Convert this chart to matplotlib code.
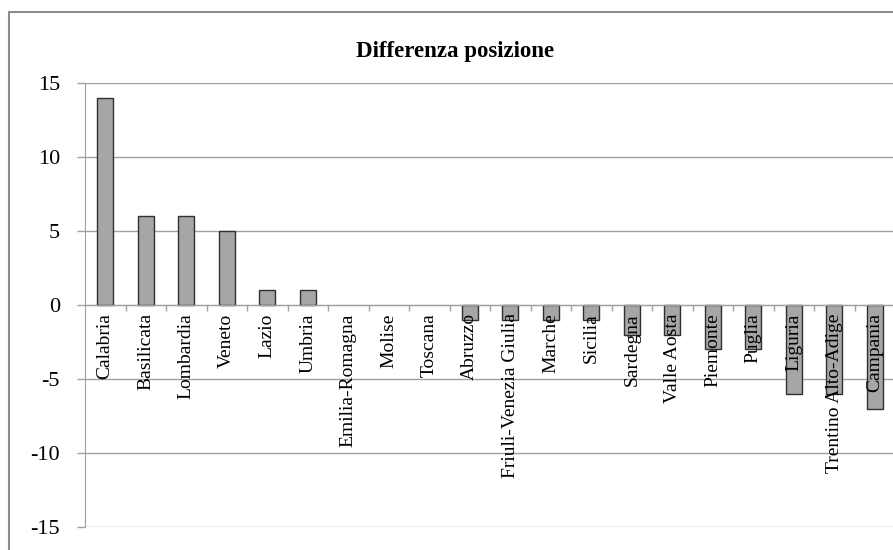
import numpy as np
import matplotlib
matplotlib.use('Agg')
import matplotlib.pyplot as plt
from matplotlib.patches import Rectangle

plt.rcParams['font.family'] = ['Liberation Serif', 'DejaVu Serif']

regions = ['Calabria', 'Basilicata', 'Lombardia', 'Veneto', 'Lazio', 'Umbria',
           'Emilia-Romagna', 'Molise', 'Toscana', 'Abruzzo', 'Friuli-Venezia Giulia',
           'Marche', 'Sicilia', 'Sardegna', 'Valle Aosta', 'Piemonte', 'Puglia',
           'Liguria', 'Trentino Alto-Adige', 'Campania']
diff = [14, 6, 6, 5, 1, 1, 0, 0, 0, -1, -1, -1, -1, -2, -2, -3, -3, -6, -6, -7]
yticks = [-15, -10, -5, 0, 5, 10, 15]

grid_col = '#a0a0a0'

fig = plt.figure(figsize=(8.93, 5.5), dpi=100)
# outer chart frame (right/bottom edges fall outside the picture)
fig.patches.append(Rectangle((9/893, -0.1), 1.2, 1.1 - 12/550,
                             transform=fig.transFigure, fill=False,
                             edgecolor='#8c8c8c', linewidth=1.5))

ax = fig.add_axes([85/893, 1 - 527/550, 810/893, 444/550])
x = np.arange(len(regions))

# gridlines below bars, tick labels above bars
for v in yticks:
    ax.axhline(v, color=grid_col, linewidth=1.0, zorder=0)
# zero-height bars leave no outline
edge_w = [1.0 if v != 0 else 0.0 for v in diff]
ax.bar(x, diff, width=0.4, color='#a6a6a6', edgecolor='#303030', linewidth=edge_w, zorder=1)

ax.set_xlim(-0.5, len(regions) - 0.5)
ax.set_ylim(-15, 15)
ax.set_yticks(yticks)
ax.set_yticklabels([str(v) for v in yticks], fontsize=16)
ax.tick_params(axis='y', direction='out', length=6, width=1, color=grid_col, pad=12)

ax.spines['top'].set_visible(False)
ax.spines['right'].set_visible(False)
ax.spines['left'].set_color(grid_col)
ax.spines['bottom'].set_color(grid_col)
ax.spines['bottom'].set_position(('data', 0))

ax.set_xticks(x)
ax.set_xticklabels(regions, rotation=90, fontsize=14, va='top', ha='center')
ax.set_xticks(np.arange(0.5, len(regions) - 0.5), minor=True)
ax.tick_params(axis='x', which='major', length=0, pad=6)
ax.tick_params(axis='x', which='minor', direction='out', length=4.5, width=1, color=grid_col)

fig.text(455/893, 1 - 52/550, 'Differenza posizione', fontsize=16.5, fontweight='bold',
         ha='center', va='center')

fig.savefig('out.png', dpi=100)
